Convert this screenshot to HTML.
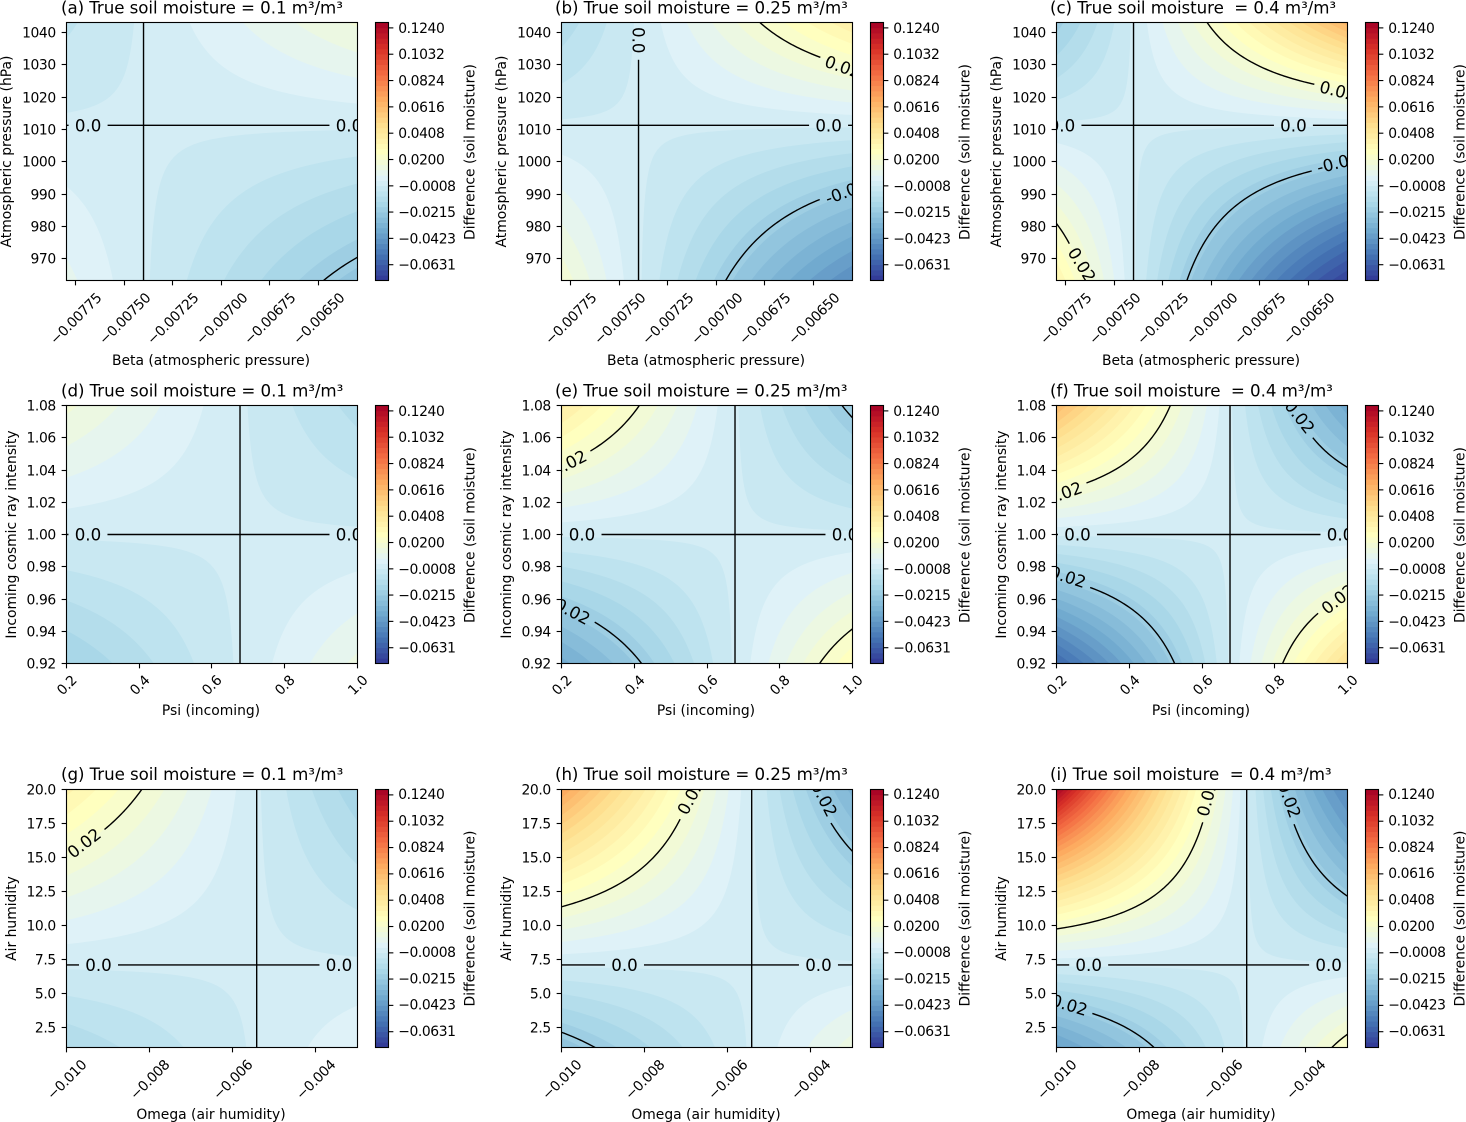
<!DOCTYPE html>
<html lang="en">
<head>
<meta charset="utf-8">
<title>Soil moisture difference contour panels</title>
<style>
html,body{margin:0;padding:0;background:#fff;}
svg{display:block;font-family:"DejaVu Sans","Liberation Sans",sans-serif;fill:#000;}
.title{font-size:16.67px;white-space:pre;letter-spacing:-0.06px;}
.lab{font-size:13.89px;}
.tick{font-size:13.89px;letter-spacing:-0.4px;}
.clab{font-size:16.67px;}
</style>
</head>
<body>
<svg id="fig" xmlns="http://www.w3.org/2000/svg" width="1466" height="1122" viewBox="0 0 1466 1122">
<rect width="1466" height="1122" fill="#fff"/>
<g id="panels"></g>
<g>
<text class="title" xml:space="preserve" x="61" y="13.5">(a) True soil moisture = 0.1 m³/m³</text>
<text class="title" xml:space="preserve" x="555" y="13.5">(b) True soil moisture = 0.25 m³/m³</text>
<text class="title" xml:space="preserve" x="1050" y="13.5">(c) True soil moisture  = 0.4 m³/m³</text>
<text class="title" xml:space="preserve" x="61" y="396.5">(d) True soil moisture = 0.1 m³/m³</text>
<text class="title" xml:space="preserve" x="555" y="396.5">(e) True soil moisture = 0.25 m³/m³</text>
<text class="title" xml:space="preserve" x="1050" y="396.5">(f) True soil moisture  = 0.4 m³/m³</text>
<text class="title" xml:space="preserve" x="61" y="780">(g) True soil moisture = 0.1 m³/m³</text>
<text class="title" xml:space="preserve" x="555" y="780">(h) True soil moisture = 0.25 m³/m³</text>
<text class="title" xml:space="preserve" x="1050" y="780">(i) True soil moisture  = 0.4 m³/m³</text>
</g>
<g text-anchor="middle">
<text class="lab" x="211" y="365">Beta (atmospheric pressure)</text>
<text class="lab" x="706" y="365">Beta (atmospheric pressure)</text>
<text class="lab" x="1201" y="365">Beta (atmospheric pressure)</text>
<text class="lab" x="211" y="715">Psi (incoming)</text>
<text class="lab" x="706" y="715">Psi (incoming)</text>
<text class="lab" x="1201" y="715">Psi (incoming)</text>
<text class="lab" x="211" y="1119">Omega (air humidity)</text>
<text class="lab" x="706" y="1119">Omega (air humidity)</text>
<text class="lab" x="1201" y="1119">Omega (air humidity)</text>
</g>
<g text-anchor="middle">
<text class="lab" transform="translate(11,151.5) rotate(-90)">Atmospheric pressure (hPa)</text>
<text class="lab" transform="translate(506,151.5) rotate(-90)">Atmospheric pressure (hPa)</text>
<text class="lab" transform="translate(1001,151.5) rotate(-90)">Atmospheric pressure (hPa)</text>
<text class="lab" transform="translate(16,534.5) rotate(-90)">Incoming cosmic ray intensity</text>
<text class="lab" transform="translate(511,534.5) rotate(-90)">Incoming cosmic ray intensity</text>
<text class="lab" transform="translate(1006,534.5) rotate(-90)">Incoming cosmic ray intensity</text>
<text class="lab" transform="translate(16,918.5) rotate(-90)">Air humidity</text>
<text class="lab" transform="translate(511,918.5) rotate(-90)">Air humidity</text>
<text class="lab" transform="translate(1006,918.5) rotate(-90)">Air humidity</text>
</g>
<g text-anchor="middle">
<text class="lab" transform="translate(474.5,152) rotate(-90)">Difference (soil moisture)</text>
<text class="lab" transform="translate(969.5,152) rotate(-90)">Difference (soil moisture)</text>
<text class="lab" transform="translate(1464.5,152) rotate(-90)">Difference (soil moisture)</text>
<text class="lab" transform="translate(474.5,535) rotate(-90)">Difference (soil moisture)</text>
<text class="lab" transform="translate(969.5,535) rotate(-90)">Difference (soil moisture)</text>
<text class="lab" transform="translate(1464.5,535) rotate(-90)">Difference (soil moisture)</text>
<text class="lab" transform="translate(474.5,918.5) rotate(-90)">Difference (soil moisture)</text>
<text class="lab" transform="translate(969.5,918.5) rotate(-90)">Difference (soil moisture)</text>
<text class="lab" transform="translate(1464.5,918.5) rotate(-90)">Difference (soil moisture)</text>
</g>
</svg>
<script>
// ---------- axis nodes at which the surface was read ----------
const betaNodes = [-0.007796, -0.0076, -0.0074, -0.00685, -0.0063];
const pressureNodes = [1043.1, 1027, 1011.3, 987, 963.3];
const psiNodes = [0.2, 0.44, 0.677, 0.84, 1.0];
const intensityNodes = [1.08, 1.04, 1.0, 0.96, 0.92];
const omegaNodes = [-0.01, -0.0077, -0.005425, -0.0042, -0.003];
const humidityNodes = [20, 13.5, 7.08, 4, 1];

// ---------- soil moisture difference values (rows: y nodes, columns: x nodes) ----------
const zPanelA = [
  [-0.0057, -0.00287, 0, 0.00822, 0.01672],
  [-0.00285, -0.00143, 0, 0.00406, 0.00818],
  [0, 0, 0, 0, 0],
  [0.00446, 0.00222, 0, -0.00612, -0.01209],
  [0.00894, 0.00443, 0, -0.01201, -0.02344]
];
const zPanelB = [
  [-0.01176, -0.00595, 0, 0.0175, 0.03631],
  [-0.00592, -0.00298, 0, 0.00856, 0.01741],
  [0, 0, 0, 0, 0],
  [0.00942, 0.00466, 0, -0.01261, -0.02459],
  [0.01906, 0.00935, 0, -0.02443, -0.04652]
];
const zPanelC = [
  [-0.01909, -0.00976, 0, 0.02988, 0.06411],
  [-0.00971, -0.00491, 0, 0.01438, 0.02972],
  [0, 0, 0, 0, 0],
  [0.01585, 0.00778, 0, -0.02044, -0.03907],
  [0.03262, 0.01573, 0, -0.03882, -0.07134]
];
const zPanelD = [
  [0.0171, 0.0083, 0, -0.0055, -0.01073],
  [0.00864, 0.00425, 0, -0.00286, -0.00563],
  [0, 0, 0, 0, 0],
  [-0.00882, -0.00443, 0, 0.0031, 0.00619],
  [-0.01779, -0.00903, 0, 0.00645, 0.01298]
];
const zPanelE = [
  [0.038, 0.01792, 0, -0.01137, -0.02183],
  [0.01866, 0.00904, 0, -0.00597, -0.01165],
  [0, 0, 0, 0, 0],
  [-0.01808, -0.0092, 0, 0.00658, 0.01327],
  [-0.03565, -0.01853, 0, 0.01382, 0.02831]
];
const zPanelF = [
  [0.06161, 0.02928, 0, -0.0188, -0.03627],
  [0.0305, 0.01483, 0, -0.00985, -0.01927],
  [0, 0, 0, 0, 0],
  [-0.02996, -0.01519, 0, 0.01081, 0.02173],
  [-0.05943, -0.0307, 0, 0.02263, 0.04615]
];
const zPanelG = [
  [0.034, 0.01633, 0, -0.00834, -0.01624],
  [0.01552, 0.00759, 0, -0.00399, -0.00782],
  [0, 0, 0, 0, 0],
  [-0.00656, -0.00329, 0, 0.00179, 0.00356],
  [-0.01245, -0.00629, 0, 0.00347, 0.00692]
];
const zPanelH = [
  [0.07, 0.0325, 0, -0.0163, -0.03122],
  [0.031, 0.01535, 0, -0.00785, -0.01528],
  [0, 0, 0, 0, 0],
  [-0.01284, -0.00648, 0, 0.00358, 0.00714],
  [-0.02403, -0.01232, 0, 0.00695, 0.014]
];
const zPanelI = [
  [0.128, 0.054, 0, -0.02695, -0.047],
  [0.052, 0.02616, 0, -0.01307, -0.02526],
  [0, 0, 0, 0, 0],
  [-0.02126, -0.01082, 0, 0.00603, 0.01208],
  [-0.03927, -0.0204, 0, 0.01176, 0.02386]
];

// ---------- ticks ----------
const betaTicks = [-0.00775, -0.0075, -0.00725, -0.007, -0.00675, -0.0065];
const pressureTicks = [970, 980, 990, 1000, 1010, 1020, 1030, 1040];
const psiTicks = [0.2, 0.4, 0.6, 0.8, 1.0];
const intensityTicks = [0.92, 0.94, 0.96, 0.98, 1.0, 1.02, 1.04, 1.06, 1.08];
const omegaTicks = [-0.01, -0.008, -0.006, -0.004];
const humidityTicks = [2.5, 5, 7.5, 10, 12.5, 15, 17.5, 20];
const colorbarTicks = [-0.0631, -0.0423, -0.0215, -0.0008, 0.02, 0.0408, 0.0616, 0.0824, 0.1032, 0.124];

// ---------- contour levels ----------
const levelMin = -0.07558;
const levelStep = 0.00416;
const bandCount = 49;
const lineLevels = [-0.02, 0, 0.02];

// ---------- inline contour labels: [text, x value, y value, rotation] ----------
const labelsA = [["0.0", -0.007685, 1011.3, 0], ["0.0", -0.006344, 1011.3, 0]];
const labelsB = [["0.0", -0.0074, 1037.6, 90], ["0.0", -0.006423, 1011.3, 0], ["0.02", -0.006349, 1029.4, 20], ["-0.02", -0.006333, 990.8, -20]];
const labelsC = [["0.0", -0.007768, 1011.3, 0], ["0.0", -0.006578, 1011.3, 0], ["0.02", -0.006349, 1022, 14], ["-0.02", -0.006349, 999.8, -14], ["0.02", -0.007665, 968.2, 58]];
const labelsD = [["0.0", 0.259, 1.0, 0], ["0.0", 0.9766, 1.0, 0]];
const labelsE = [["0.0", 0.2564, 1.0, 0], ["0.0", 0.9793, 1.0, 0], ["0.02", 0.2206, 1.0444, -27], ["-0.02", 0.2234, 0.9532, 28]];
const labelsF = [["0.0", 0.2577, 1.0, 0], ["0.0", 0.9793, 1.0, 0], ["0.02", 0.2206, 1.0258, -20], ["-0.02", 0.2234, 0.9743, 18], ["-0.02", 0.864, 1.0745, 52], ["0.02", 0.9739, 0.96, -38]];
const labelsG = [["0.0", -0.00923, 7.08, 0], ["0.0", -0.003446, 7.08, 0], ["0.02", -0.009579, 16.06, -38]];
const labelsH = [["0.0", -0.008485, 7.08, 0], ["0.0", -0.003819, 7.08, 0], ["0.02", -0.006898, 19.45, -62], ["-0.02", -0.003711, 19.5, 63]];
const labelsI = [["0.0", -0.009226, 7.08, 0], ["0.0", -0.003454, 7.08, 0], ["0.02", -0.00638, 19.37, -75], ["-0.02", -0.00442, 19.45, 70], ["-0.02", -0.00976, 4.2, 17]];

// ---------- layout ----------
const NS = "http://www.w3.org/2000/svg";
const axesW = 291, axesH = 258, colLefts = [66.5, 561.5, 1056.5], rowTops = [22.5, 405.5, 789.5];
const tickRowCentre = [318.5, 685, 1079.5];
const colorbarTextShift = [0, 0, -0.7];
const rowAxes = [
  {xNodes: betaNodes, yNodes: pressureNodes, xDom: [-0.007796, -0.0063], yDom: [963.3, 1043.1], xTicks: betaTicks, yTicks: pressureTicks, xFix: 5, yFix: 0},
  {xNodes: psiNodes, yNodes: intensityNodes, xDom: [0.2, 1.0], yDom: [0.92, 1.08], xTicks: psiTicks, yTicks: intensityTicks, xFix: 1, yFix: 2},
  {xNodes: omegaNodes, yNodes: humidityNodes, xDom: [-0.01, -0.003], yDom: [1, 20], xTicks: omegaTicks, yTicks: humidityTicks, xFix: 3, yFix: 1}
];
const panelGrids = [[zPanelA, zPanelB, zPanelC], [zPanelD, zPanelE, zPanelF], [zPanelG, zPanelH, zPanelI]];
const panelLabels = [[labelsA, labelsB, labelsC], [labelsD, labelsE, labelsF], [labelsG, labelsH, labelsI]];
const panelIds = [["a", "b", "c"], ["d", "e", "f"], ["g", "h", "i"]];

const cmapStops = [[49,54,149],[69,117,180],[116,173,209],[171,217,233],[224,243,248],[255,255,191],[254,224,144],[253,174,97],[244,109,67],[215,48,39],[165,0,38]];
function cmap(t) {
  const p = Math.max(0, Math.min(1, t)) * 10, i = Math.min(9, Math.floor(p)), f = p - i;
  const c = [0, 1, 2].map(n => Math.round(cmapStops[i][n] + (cmapStops[i + 1][n] - cmapStops[i][n]) * f));
  return "rgb(" + c.join(",") + ")";
}
function bandColor(k) { return cmap((k + 0.5) / bandCount); }
function levelAt(k) { return levelMin + k * levelStep; }

function mk(tag, attrs, parent) {
  const el = document.createElementNS(NS, tag);
  for (const key in attrs) el.setAttribute(key, attrs[key]);
  if (parent) parent.appendChild(el);
  return el;
}
function weights(nodes, t) {
  return nodes.map((n, i) => {
    let w = 1;
    nodes.forEach((m, j) => { if (j !== i) w *= (t - m) / (n - m); });
    return w;
  });
}
function fmt(v, fix) { return v.toFixed(fix).replace("-", "\u2212"); }
const r2 = v => Math.round(v * 100) / 100;

const root = document.getElementById("panels");
const GRID = 73;

function drawPanel(row, col) {
  const cfg = rowAxes[row], id = panelIds[row][col], table = panelGrids[row][col];
  const L = colLefts[col], T = rowTops[row];
  const xPx = v => L + (v - cfg.xDom[0]) / (cfg.xDom[1] - cfg.xDom[0]) * axesW;
  const yPx = v => T + axesH - (v - cfg.yDom[0]) / (cfg.yDom[1] - cfg.yDom[0]) * axesH;

  const g = mk("g", {}, root);
  
  
  const clipId = "clip-" + id, maskId = "mask-" + id;
  const clip = mk("clipPath", {id: clipId}, g);
  mk("rect", {x: L, y: T, width: axesW, height: axesH}, clip);

  // sample surface
  const pxX = [], pxY = [], wX = [], wY = [];
  for (let i = 0; i <= GRID; i++) {
    const xv = cfg.xDom[0] + (cfg.xDom[1] - cfg.xDom[0]) * i / GRID;
    const yv = cfg.yDom[1] - (cfg.yDom[1] - cfg.yDom[0]) * i / GRID;
    pxX.push(xPx(xv)); pxY.push(yPx(yv));
    wX.push(weights(cfg.xNodes, xv)); wY.push(weights(cfg.yNodes, yv));
  }
  const Z = [];
  for (let j = 0; j <= GRID; j++) {
    const line = [];
    for (let i = 0; i <= GRID; i++) {
      let s = 0;
      for (let a = 0; a < table.length; a++) for (let b = 0; b < table[a].length; b++) s += wY[j][a] * wX[i][b] * table[a][b];
      line.push(s);
    }
    Z.push(line);
  }

  // filled contour bands
  const bands = mk("g", {"clip-path": "url(#" + clipId + ")"}, g);
  
  
  for (let k = 0; k < bandCount; k++) {
    const lev = k === 0 ? -Infinity : levelAt(k);
    const parts = [];
    for (let j = 0; j < GRID; j++) {
      let run = -1;
      for (let i = 0; i < GRID; i++) {
        const v = [Z[j][i], Z[j][i + 1], Z[j + 1][i + 1], Z[j + 1][i]];
        const n = v.filter(q => q >= lev).length;
        if (n === 4) { if (run < 0) run = i; continue; }
        if (run >= 0) {
          parts.push("M" + r2(pxX[run]) + " " + r2(pxY[j]) + "H" + r2(pxX[i]) + "V" + r2(pxY[j + 1]) + "H" + r2(pxX[run]) + "Z");
          run = -1;
        }
        if (n === 0) continue;
        const c = [[pxX[i], pxY[j]], [pxX[i + 1], pxY[j]], [pxX[i + 1], pxY[j + 1]], [pxX[i], pxY[j + 1]]];
        const poly = [];
        for (let e = 0; e < 4; e++) {
          const f = (e + 1) % 4, ia = v[e] >= lev, ib = v[f] >= lev;
          if (ia) poly.push(c[e]);
          if (ia !== ib) {
            const t = (lev - v[e]) / (v[f] - v[e]);
            poly.push([c[e][0] + (c[f][0] - c[e][0]) * t, c[e][1] + (c[f][1] - c[e][1]) * t]);
          }
        }
        parts.push("M" + poly.map(p => r2(p[0]) + " " + r2(p[1])).join("L") + "Z");
      }
      if (run >= 0) parts.push("M" + r2(pxX[run]) + " " + r2(pxY[j]) + "H" + r2(pxX[GRID]) + "V" + r2(pxY[j + 1]) + "H" + r2(pxX[run]) + "Z");
    }
    if (!parts.length) continue;
    const band = mk("path", {d: parts.join(""), fill: bandColor(k)}, bands);
    
    
  }

  // mask cutting contour lines under inline labels
  const labels = panelLabels[row][col];
  const mask = mk("mask", {id: maskId, maskUnits: "userSpaceOnUse", x: L - 2, y: T - 2, width: axesW + 4, height: axesH + 4}, g);
  mk("rect", {x: L - 2, y: T - 2, width: axesW + 4, height: axesH + 4, fill: "#fff"}, mask);
  labels.forEach(lb => {
    const hw = lb[0].length === 3 ? 19.5 : (lb[0].length === 4 ? 24.5 : 27.5);
    mk("rect", {x: -hw, y: -11, width: 2 * hw, height: 22, fill: "#000",
      transform: "translate(" + xPx(lb[1]) + "," + yPx(lb[2]) + ") rotate(" + lb[3] + ")"}, mask);
  });

  // contour lines
  const clipLines = mk("g", {"clip-path": "url(#" + clipId + ")"}, g);
  
  
  const maskedLines = mk("g", {mask: "url(#" + maskId + ")"}, clipLines);
  lineLevels.forEach(lev => {
    const segs = [];
    for (let j = 0; j < GRID; j++) for (let i = 0; i < GRID; i++) {
      const v = [Z[j][i], Z[j][i + 1], Z[j + 1][i + 1], Z[j + 1][i]];
      const c = [[pxX[i], pxY[j]], [pxX[i + 1], pxY[j]], [pxX[i + 1], pxY[j + 1]], [pxX[i], pxY[j + 1]]];
      const pts = [];
      for (let e = 0; e < 4; e++) {
        const f = (e + 1) % 4;
        if ((v[e] >= lev) !== (v[f] >= lev)) {
          const t = (lev - v[e]) / (v[f] - v[e]);
          pts.push([c[e][0] + (c[f][0] - c[e][0]) * t, c[e][1] + (c[f][1] - c[e][1]) * t]);
        }
      }
      const add = (a, b) => segs.push("M" + r2(a[0]) + " " + r2(a[1]) + "L" + r2(b[0]) + " " + r2(b[1]));
      if (pts.length === 2) add(pts[0], pts[1]);
      if (pts.length === 4) { add(pts[0], pts[2]); add(pts[1], pts[3]); }
    }
    if (!segs.length) return;
    const line = mk("path", {d: segs.join(""), fill: "none", stroke: "#000", "stroke-width": 1.39, "stroke-linecap": "round"}, maskedLines);
    
    
  });

  // inline labels
  labels.forEach(lb => {
    const t = mk("text", {class: "clab", "text-anchor": "middle", y: 6,
      transform: "translate(" + xPx(lb[1]) + "," + yPx(lb[2]) + ") rotate(" + lb[3] + ")"}, clipLines);
    t.textContent = lb[0];
    
    
  });

  // frame
  const frame = mk("rect", {x: L, y: T, width: axesW, height: axesH, fill: "none", stroke: "#000", "stroke-width": 1.11}, g);
  
  

  // x ticks
  cfg.xTicks.forEach(v => {
    const x = Math.round(xPx(v) - 0.5) + 0.5;
    const tk = mk("line", {x1: x, x2: x, y1: T + axesH, y2: T + axesH + 4.86, stroke: "#000", "stroke-width": 1.11}, g);
    
    
    const lb = mk("text", {class: "tick", "text-anchor": "middle", y: 5, transform: "translate(" + x + "," + tickRowCentre[row] + ") rotate(-45)"}, g);
    lb.textContent = fmt(v, cfg.xFix);
    
    
  });
  // y ticks
  cfg.yTicks.forEach(v => {
    const y = Math.round(yPx(v) - 0.5) + 0.5;
    const tk = mk("line", {x1: L - 4.86, x2: L, y1: y, y2: y, stroke: "#000", "stroke-width": 1.11}, g);
    
    
    const lb = mk("text", {class: "tick", "text-anchor": "end", x: L - 10.7, y: y + 5}, g);
    lb.textContent = fmt(v, cfg.yFix);
    
    
  });

  // colorbar
  const cbX = L + 309, cbW = 13;
  const cbY = v => T + axesH - (v - levelAt(0)) / (levelAt(bandCount) - levelAt(0)) * axesH;
  const cb = mk("g", {}, g);
  
  
  for (let k = 0; k < bandCount; k++) {
    const y1 = cbY(levelAt(k + 1)), y0 = cbY(levelAt(k));
    const seg = mk("rect", {x: cbX, y: y1, width: cbW, height: y0 - y1 + 0.4, fill: bandColor(k)}, cb);
    
    
  }
  const cbFrame = mk("rect", {x: cbX, y: T, width: cbW, height: axesH, fill: "none", stroke: "#000", "stroke-width": 1.11}, cb);
  
  
  colorbarTicks.forEach(v => {
    const y = cbY(v);
    const tk = mk("line", {x1: cbX + cbW, x2: cbX + cbW + 4.86, y1: y, y2: y, stroke: "#000", "stroke-width": 1.11}, cb);
    
    
    const lb = mk("text", {class: "tick", x: cbX + cbW + 9.72, y: y + 5 + colorbarTextShift[row]}, cb);
    lb.textContent = fmt(v, 4);
    
    
  });
}

for (let r = 0; r < 3; r++) for (let c = 0; c < 3; c++) drawPanel(r, c);
</script>
</body>
</html>
